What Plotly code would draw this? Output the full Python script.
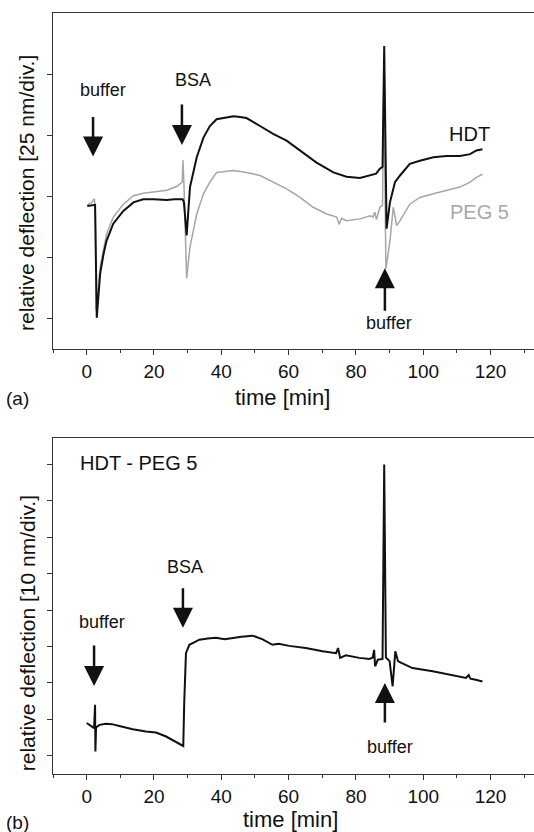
import plotly.graph_objects as go
from plotly.subplots import make_subplots

# ---- data (time in min, deflection in divisions) ----
t_hdt = [0.2, 1.5, 2.5, 3.0, 3.5, 4.0, 5.0, 5.9, 7.9, 10.9, 13.9, 16.8, 19.8, 23.8, 26.0, 28.5, 28.9,
         29.7, 30.7, 32.7, 34.7, 36.6, 38.6, 41.0, 43.6, 45.0, 47.5, 51.5, 55.4, 59.4, 63.4, 68.3,
         73.3, 77.2, 81.2, 84.2, 86.0, 87.1, 87.9, 88.4, 88.8, 89.1, 90.1, 91.6, 93.1, 96.0, 99.0,
         103.0, 106.9, 110.9, 113.9, 115.8, 117.6]
v_hdt = [1.84, 1.85, 1.86, 0.01, 0.40, 0.73, 1.05, 1.27, 1.55, 1.76, 1.90, 1.95, 1.95, 1.94, 1.95, 1.95, 1.90,
         1.36, 2.15, 2.64, 2.96, 3.15, 3.26, 3.28, 3.31, 3.30, 3.28, 3.15, 3.02, 2.91, 2.75, 2.55,
         2.39, 2.32, 2.30, 2.34, 2.37, 2.45, 2.48, 4.46, 2.80, 1.47, 1.90, 2.23, 2.34, 2.53, 2.58,
         2.64, 2.66, 2.66, 2.69, 2.75, 2.77]

t_peg = [0.2, 1.5, 2.3, 2.6, 2.8, 3.2, 4.0, 5.9, 7.9, 10.9, 13.9, 16.8, 19.8, 23.8, 26.7, 28.4, 28.6,
         28.9, 29.7, 30.7, 32.7, 34.7, 36.6, 38.6, 43.6, 47.5, 51.5, 55.4, 59.4, 63.4, 67.3, 71.3,
         74.3, 75.0, 75.7, 77.2, 81.2, 84.2, 85.1, 85.6, 86.1, 87.1, 87.9, 88.3, 88.6, 88.9, 90.1,
         91.1, 92.1, 93.1, 96.0, 99.0, 103.0, 106.9, 110.9, 113.9, 115.8, 117.6]
v_peg = [1.86, 1.90, 1.96, 1.70, 0.13, 0.30, 0.84, 1.38, 1.66, 1.87, 2.01, 2.05, 2.07, 2.10, 2.16, 2.23, 2.59,
         2.20, 0.66, 1.17, 1.71, 2.04, 2.23, 2.39, 2.42, 2.39, 2.34, 2.23, 2.12, 1.98, 1.82, 1.71,
         1.66, 1.54, 1.64, 1.60, 1.63, 1.68, 1.66, 1.74, 1.62, 1.82, 1.85, 3.92, 2.00, 0.81, 1.27,
         1.82, 1.52, 1.60, 1.87, 1.98, 2.04, 2.09, 2.15, 2.23, 2.31, 2.36]

t_diff = [0.0, 1.5, 2.2, 2.5, 2.6, 2.8, 3.3, 3.8, 5.7, 7.5, 9.7, 13.7, 17.6, 20.6, 23.6, 26.5, 28.7,
          29.0, 29.5, 30.5, 33.5, 36.0, 38.4, 41.0, 43.4, 46.0, 49.3, 52.3, 55.2, 57.0, 60.2, 65.1,
          70.1, 74.1, 74.7, 75.3, 77.0, 81.0, 84.0, 85.0, 85.4, 85.7, 86.5, 87.9, 88.4, 88.9, 90.0,
          90.9, 91.7, 92.5, 93.5, 96.8, 102.8, 107.7, 112.7, 113.5, 114.0, 115.6, 117.6]
v_diff = [0.90, 0.82, 0.76, 1.40, 0.12, 0.78, 0.81, 0.85, 0.88, 0.87, 0.82, 0.73, 0.67, 0.64, 0.53, 0.39, 0.27,
          1.50, 2.82, 3.05, 3.19, 3.22, 3.24, 3.20, 3.24, 3.27, 3.30, 3.20, 3.05, 3.08, 3.02, 2.96,
          2.87, 2.82, 2.96, 2.69, 2.76, 2.69, 2.66, 2.70, 2.91, 2.46, 2.64, 2.66, 8.00, 2.70, 2.60,
          1.91, 2.87, 2.60, 2.55, 2.41, 2.32, 2.23, 2.14, 2.22, 2.12, 2.09, 2.04]

x_ticks = [0, 20, 40, 60, 80, 100, 120]
y_ticks_a = [0, 1, 2, 3, 4]
y_ticks_b = [0, 1, 2, 3, 4, 5, 6, 7, 8]

FONT = "Liberation Sans, Arial, sans-serif"

fig = make_subplots(rows=2, cols=1, vertical_spacing=0.117)
fig.add_trace(go.Scatter(x=t_peg, y=v_peg, mode="lines", line=dict(color="#a6a6a6", width=1.5),
                         name="PEG 5"), row=1, col=1)
fig.add_trace(go.Scatter(x=t_hdt, y=v_hdt, mode="lines", line=dict(color="#111111", width=2),
                         name="HDT"), row=1, col=1)
fig.add_trace(go.Scatter(x=t_diff, y=v_diff, mode="lines", line=dict(color="#111111", width=2),
                         name="HDT - PEG 5"), row=2, col=1)

xa = dict(range=[-10, 132.9], tickvals=x_ticks, ticks="outside", ticklen=5, tickwidth=1,
          tickcolor="#333", showline=True, linecolor="#333", linewidth=1, mirror=True,
          showgrid=False, zeroline=False, tickfont=dict(size=19, color="#111", family=FONT),
          minor=dict(dtick=10, tick0=0, ticks="outside", ticklen=3, tickcolor="#333"))
fig.update_xaxes(**xa)
ya = dict(ticks="outside", ticklen=5, tickwidth=1, tickcolor="#333", showline=True,
          linecolor="#333", linewidth=1, showgrid=False, zeroline=False, showticklabels=False)
fig.update_yaxes(**ya)
fig.update_yaxes(range=[-0.5, 5.0], tickvals=y_ticks_a, row=1, col=1)
fig.update_yaxes(range=[-0.5, 8.73], tickvals=y_ticks_b, row=2, col=1)
fig.update_layout(xaxis=dict(domain=[0, 1]), yaxis=dict(domain=[0.5585, 1.0]),
                  xaxis2=dict(domain=[0, 1]), yaxis2=dict(domain=[0.0, 0.4415]))

ann = []
def txt(x, y, s, xref, yref, size=18, color="#111", xanchor="center", angle=0):
    ann.append(dict(x=x, y=y, xref=xref, yref=yref, text=s, showarrow=False,
                    font=dict(size=size, color=color, family=FONT), xanchor=xanchor,
                    yanchor="middle", textangle=angle))

def arrow(x, y, ay, xref, yref):
    ann.append(dict(x=x, y=y, xref=xref, yref=yref, text="", showarrow=True, ax=0, ay=ay,
                    arrowhead=2, arrowsize=1.6, arrowwidth=2.5, arrowcolor="#111"))

# panel (a)
txt(4.8, 3.74, "buffer", "x", "y")
txt(31.6, 3.9, "BSA", "x", "y")
txt(113.8, 3.02, "HDT", "x", "y", size=20)
txt(116.8, 1.75, "PEG 5", "x", "y", size=20, color="#a8a8a8")
txt(89.8, -0.08, "buffer", "x", "y")
arrow(1.9, 2.65, -41, "x", "y")
arrow(28.3, 2.84, -42, "x", "y")
arrow(88.6, 0.82, 44, "x", "y")
# panel (b)
txt(-2.6, 8.05, "HDT - PEG 5", "x2", "y2", size=20, xanchor="left")
txt(29.2, 5.19, "BSA", "x2", "y2")
txt(4.5, 3.68, "buffer", "x2", "y2")
txt(90.1, 0.25, "buffer", "x2", "y2")
arrow(28.6, 3.52, -41, "x2", "y2")
arrow(2.2, 1.92, -42, "x2", "y2")
arrow(88.6, 2.0, 41, "x2", "y2")

# axis titles & panel labels
txt(0.478, 0.4954, "time [min]", "paper", "paper", size=22)
txt(0.493, -0.0604, "time [min]", "paper", "paper", size=22)
txt(-0.054, 0.7635, "relative deflection [25 nm/div.]", "paper", "paper", size=21, angle=-90)
txt(-0.054, 0.185, "relative deflection [10 nm/div.]", "paper", "paper", size=21, angle=-90)
txt(-0.073, 0.494, "(a)", "paper", "paper", size=19)
txt(-0.073, -0.064, "(b)", "paper", "paper", size=19)

fig.update_layout(annotations=ann, width=534, height=832, showlegend=False,
                  margin=dict(l=53, r=0, t=13, b=58), plot_bgcolor="white",
                  paper_bgcolor="white", font=dict(family=FONT))

fig.write_html("out.html", config={"displayModeBar": False},
               post_script="document.body.style.margin='0px';document.body.style.overflow='hidden';")
